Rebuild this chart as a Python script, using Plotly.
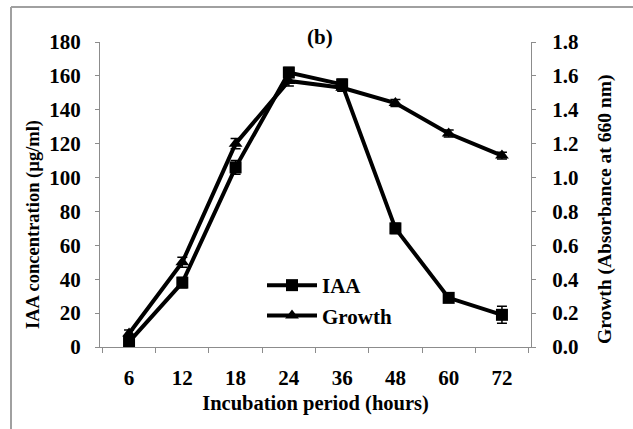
import plotly.graph_objects as go

hours = ["6", "12", "18", "24", "36", "48", "60", "72"]
iaa = [3, 38, 106, 162, 155, 70, 29, 19]
iaa_err = [2, 3, 4, 3, 3, 3, 2, 5]
growth = [0.08, 0.50, 1.20, 1.57, 1.53, 1.44, 1.26, 1.13]
growth_err = [0.02, 0.03, 0.03, 0.03, 0.02, 0.02, 0.02, 0.02]

FONT = "Liberation Serif"
FS = 21

fig = go.Figure()
fig.add_trace(go.Scatter(
    x=hours, y=iaa, name="IAA", mode="lines+markers",
    line=dict(color="black", width=4),
    marker=dict(symbol="square", size=12, color="black"),
    error_y=dict(type="data", array=iaa_err, color="black", thickness=1.5, width=5),
    legendgroup="a",
))
fig.add_trace(go.Scatter(
    x=hours, y=growth, name="Growth", mode="lines+markers", yaxis="y2",
    line=dict(color="black", width=4),
    marker=dict(symbol="triangle-up", size=12, color="black"),
    error_y=dict(type="data", array=growth_err, color="black", thickness=1.5, width=5),
    legendgroup="b",
))

L, R, T, B = 100, 531, 42, 347
W, H = 633, 429
pw, ph = R - L, B - T

axcol = "#8c8c8c"
bold = dict(family=FONT, size=FS, weight="bold")
fig.update_layout(
    width=W, height=H,
    margin=dict(l=L, r=W - R, t=T, b=H - B),
    paper_bgcolor="white", plot_bgcolor="white",
    font=dict(family=FONT, size=FS, color="black", weight="bold"),
    showlegend=True,
    legend=dict(x=(262 - L) / pw, y=1 - (265 - T) / ph, xanchor="left", yanchor="top",
                bgcolor="rgba(0,0,0,0)", font=bold,
                traceorder="grouped", tracegroupgap=0, itemwidth=50),
    xaxis=dict(
        type="category", showgrid=False, showline=True, linecolor=axcol, linewidth=1,
        ticks="outside", tickson="boundaries", ticklen=5, tickcolor=axcol,
        ticklabelstandoff=12,
        title=dict(text="Incubation period (hours)", standoff=6,
                   font=dict(family=FONT, size=20.5, weight="bold")),
        tickfont=bold, zeroline=False,
    ),
    yaxis=dict(
        range=[0, 180], dtick=20, showgrid=False, showline=True, linecolor=axcol, linewidth=1,
        ticks="outside", ticklen=4, tickcolor=axcol, zeroline=False,
        ticklabelstandoff=10, tickfont=bold,
    ),
    yaxis2=dict(
        range=[0, 1.8], dtick=0.2, tickformat=".1f", overlaying="y", side="right",
        showgrid=False, showline=True, linecolor=axcol, linewidth=1,
        ticks="outside", ticklen=4, tickcolor=axcol, zeroline=False,
        ticklabelstandoff=12, tickfont=bold,
    ),
)

fig.add_annotation(text="IAA concentration (µg/ml)", xref="paper", yref="paper",
                   x=(33 - L) / pw, y=1 - (225 - T) / ph, textangle=-90,
                   xanchor="center", yanchor="middle", showarrow=False,
                   font=dict(family=FONT, size=18.5, weight="bold"))
fig.add_annotation(text="Growth (Absorbance at 660 nm)", xref="paper", yref="paper",
                   x=(605 - L) / pw, y=1 - (210 - T) / ph, textangle=-90,
                   xanchor="center", yanchor="middle", showarrow=False,
                   font=dict(family=FONT, size=19.5, weight="bold"))
fig.add_annotation(text="(b)", xref="paper", yref="paper",
                   x=(320 - L) / pw, y=1 + (T - 37) / ph, xanchor="center", yanchor="middle",
                   showarrow=False, font=bold)

# outer frame
fx = (11 - L) / pw
fy = 1 + (T - 7) / ph
fig.add_shape(type="line", xref="paper", yref="paper", x0=fx, x1=fx, y0=fy, y1=-(H - B) / ph - 0.01,
              line=dict(color="#a0a0a0", width=2))
fig.add_shape(type="line", xref="paper", yref="paper", x0=fx, x1=(W - L) / pw + 0.01, y0=fy, y1=fy,
              line=dict(color="#a0a0a0", width=2))

fig.write_html("out.html")
